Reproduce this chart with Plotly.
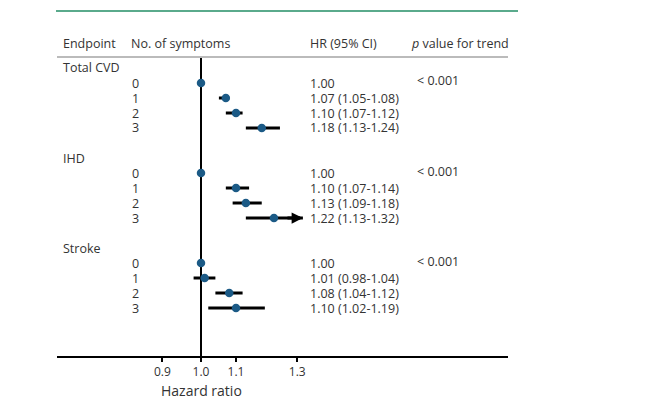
import numpy as np
import plotly.graph_objects as go

endpoints = ["Total CVD", "IHD", "Stroke"]
symptoms = ["0", "1", "2", "3"]
hr = [[1.00, 1.07, 1.10, 1.18], [1.00, 1.10, 1.13, 1.22], [1.00, 1.01, 1.08, 1.10]]
ci_lo = [[None, 1.05, 1.07, 1.13], [None, 1.07, 1.09, 1.13], [None, 0.98, 1.04, 1.02]]
ci_hi = [[None, 1.08, 1.12, 1.24], [None, 1.14, 1.18, 1.32], [None, 1.04, 1.12, 1.19]]
p_trend = ["< 0.001", "< 0.001", "< 0.001"]
tick_vals = [0.9, 1.0, 1.1, 1.3]
tick_text = ["0.9", "1.0", "1.1", "1.3"]
truncated_at = 1.30  # axis display limit; CIs beyond it get an arrow

# page offset (browser body margin)
OFF = 8
W, H = 660 - OFF, 400 - OFF
# geometry in window pixels
L, R = 57, 508
T, B = 57, 356
PX_PER_DEC = 845.0
X1 = 201
ROW0, ROWH = 83, 15

xr = [(L - X1) / PX_PER_DEC, (R - X1) / PX_PER_DEC]
yr = [(B - ROW0) / ROWH, (T - ROW0) / ROWH]

def px2paper(px):
    return (px - L) / (R - L)

def py2paper(py):
    return (B - py) / (B - T)

FONT = "Open Sans"
TXT = "#333333"
DOT = "#1b5a86"
FS = 12.5

fig = go.Figure()

# reference line at HR = 1
fig.add_trace(go.Scatter(x=[1, 1], y=yr, mode="lines", line=dict(color="black", width=2),
                         hoverinfo="skip", showlegend=False, cliponaxis=False))

group_start = [0, 6, 12]
lx, ly = [], []
mx, my = [], []
arrows = []
for g, ep in enumerate(endpoints):
    for i, s in enumerate(symptoms):
        r = group_start[g] + i
        mx.append(hr[g][i]); my.append(r)
        if ci_lo[g][i] is not None:
            hi = ci_hi[g][i]
            lx += [ci_lo[g][i], hi, None]; ly += [r, r, None]
            if hi > truncated_at:
                arrows.append((hi, r))

fig.add_trace(go.Scatter(x=lx, y=ly, mode="lines", line=dict(color="black", width=3),
                         hoverinfo="skip", showlegend=False))
fig.add_trace(go.Scatter(x=mx, y=my, mode="markers",
                         marker=dict(color=DOT, size=8.5, line=dict(width=0)),
                         showlegend=False))

ann = []
def txt(x_px, y_py, text, anchor="left", size=FS):
    ann.append(dict(xref="paper", yref="paper", x=px2paper(x_px), y=py2paper(y_py), text=text,
                    showarrow=False, xanchor=anchor, yanchor="middle", borderpad=0,
                    font=dict(family=FONT, size=size, color=TXT)))

def row_py(r):
    return ROW0 + ROWH * r

# headers
txt(62, 43, "Endpoint")
txt(130, 43, "No. of symptoms")
txt(309, 43, "HR (95% CI)")
txt(410, 43, "<i>p</i> value for trend")

for g, ep in enumerate(endpoints):
    base = group_start[g]
    txt(62, row_py(base - 1), ep)
    txt(416, row_py(base) - 2, p_trend[g])
    for i, s in enumerate(symptoms):
        r = base + i
        txt(135, row_py(r), s, anchor="center")
        if ci_lo[g][i] is None:
            label = f"{hr[g][i]:.2f}"
        else:
            label = f"{hr[g][i]:.2f} ({ci_lo[g][i]:.2f}-{ci_hi[g][i]:.2f})"
        txt(309, row_py(r), label)

for hi, r in arrows:
    ann.append(dict(xref="x", yref="y", axref="x", ayref="y",
                    x=np.log10(hi), y=r, ax=np.log10(hi) - 0.02, ay=r,
                    showarrow=True, arrowhead=2, arrowsize=0.75, arrowwidth=3,
                    arrowcolor="black", text="", standoff=0))

ann.append(dict(xref="x", yref="paper", x=0, y=py2paper(390), text="Hazard ratio",
                showarrow=False, xanchor="center", yanchor="middle",
                font=dict(family=FONT, size=14, color=TXT)))

shapes = [
    dict(type="line", xref="paper", yref="paper", x0=px2paper(56), x1=px2paper(518),
         y0=py2paper(11), y1=py2paper(11), line=dict(color="#5aaa8c", width=2)),
    dict(type="line", xref="paper", yref="paper", x0=0, x1=1, y0=1, y1=1,
         line=dict(color="#bbbbbb", width=2)),
]

fig.update_layout(
    width=W, height=H,
    margin=dict(l=L - OFF, r=(W + OFF) - R, t=T - OFF, b=(H + OFF) - B, pad=0),
    paper_bgcolor="white", plot_bgcolor="white",
    annotations=ann, shapes=shapes, showlegend=False,
    xaxis=dict(type="log", range=xr, showgrid=False, zeroline=False,
               showline=True, linecolor="black", linewidth=2,
               ticks="outside", ticklen=4, tickwidth=1.5, tickcolor="black",
               tickvals=tick_vals, ticktext=tick_text,
               tickfont=dict(family=FONT, size=12, color=TXT)),
    yaxis=dict(range=yr, showgrid=False, zeroline=False, showticklabels=False,
               showline=False, ticks=""),
)

fig.write_html("out.html")
